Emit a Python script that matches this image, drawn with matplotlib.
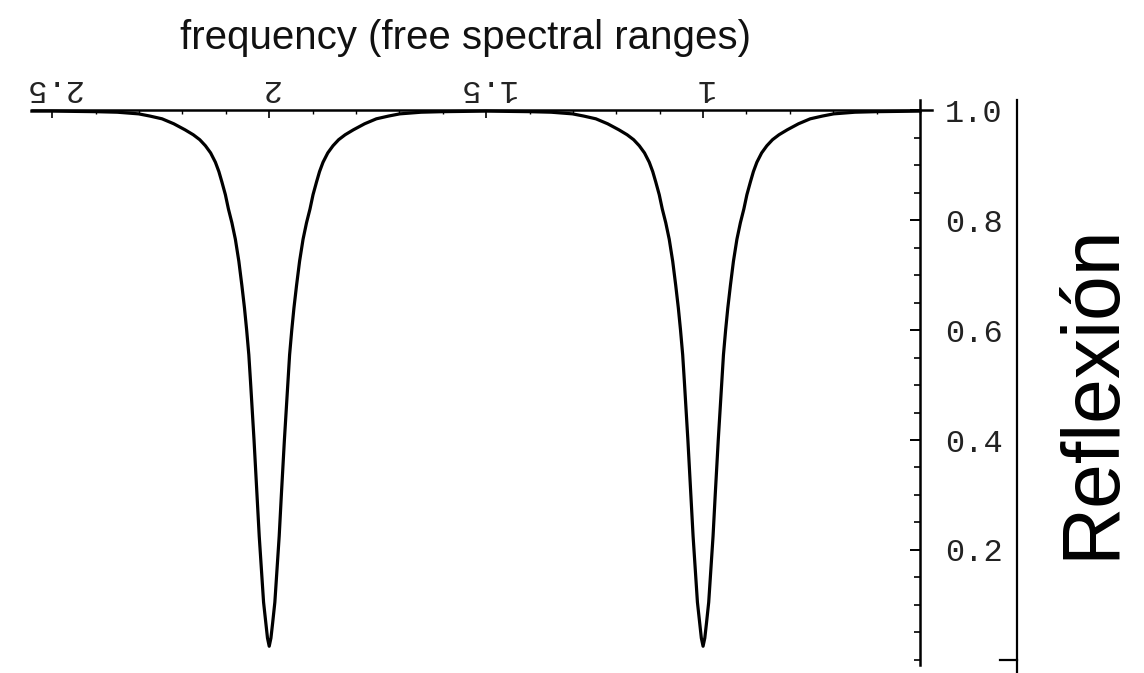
import matplotlib
matplotlib.use("Agg")
import matplotlib.pyplot as plt
from matplotlib.lines import Line2D
from matplotlib.ticker import MultipleLocator

# ---- data ----
freq_dip2_left = [2.547, 2.500, 2.400, 2.350, 2.301, 2.275, 2.247, 2.220, 2.194, 2.175,
                  2.160, 2.147, 2.135, 2.124, 2.116, 2.109, 2.101, 2.094, 2.086, 2.078,
                  2.070, 2.063, 2.057, 2.052, 2.047, 2.043, 2.035, 2.028, 2.023, 2.018,
                  2.013, 2.008, 2.004, 2.000]
refl_dip2_left = [0.998, 0.998, 0.997, 0.996, 0.993, 0.989, 0.984, 0.975, 0.964, 0.955,
                  0.946, 0.935, 0.922, 0.905, 0.888, 0.869, 0.846, 0.820, 0.795, 0.765,
                  0.725, 0.681, 0.640, 0.600, 0.555, 0.505, 0.400, 0.300, 0.225, 0.165,
                  0.105, 0.068, 0.040, 0.025]
freq_dip2_right = [1.996, 1.992, 1.987, 1.982, 1.977, 1.972, 1.965, 1.957, 1.953, 1.948,
                   1.943, 1.937, 1.930, 1.922, 1.914, 1.906, 1.899, 1.891, 1.884, 1.876,
                   1.865, 1.853, 1.840, 1.825, 1.806, 1.780, 1.753, 1.725, 1.699, 1.650,
                   1.600, 1.500]
refl_dip2_right = [0.040, 0.068, 0.105, 0.165, 0.225, 0.300, 0.400, 0.505, 0.555, 0.600,
                   0.640, 0.681, 0.725, 0.765, 0.795, 0.820, 0.846, 0.869, 0.888, 0.905,
                   0.922, 0.935, 0.946, 0.955, 0.964, 0.975, 0.984, 0.989, 0.993, 0.996,
                   0.997, 0.998]
freq_dip1_left = [1.400, 1.350, 1.301, 1.275, 1.247, 1.220, 1.194, 1.175, 1.160, 1.147,
                  1.135, 1.124, 1.116, 1.109, 1.101, 1.094, 1.086, 1.078, 1.070, 1.063,
                  1.057, 1.052, 1.047, 1.043, 1.035, 1.028, 1.023, 1.018, 1.013, 1.008,
                  1.004, 1.000]
refl_dip1_left = [0.997, 0.996, 0.993, 0.989, 0.984, 0.975, 0.964, 0.955, 0.946, 0.935,
                  0.922, 0.905, 0.888, 0.869, 0.846, 0.820, 0.795, 0.765, 0.725, 0.681,
                  0.640, 0.600, 0.555, 0.505, 0.400, 0.300, 0.225, 0.165, 0.105, 0.068,
                  0.040, 0.025]
freq_dip1_right = [0.996, 0.992, 0.987, 0.982, 0.977, 0.972, 0.965, 0.957, 0.953, 0.948,
                   0.943, 0.937, 0.930, 0.922, 0.914, 0.906, 0.899, 0.891, 0.884, 0.876,
                   0.865, 0.853, 0.840, 0.825, 0.806, 0.780, 0.753, 0.725, 0.699, 0.650,
                   0.600, 0.500]
refl_dip1_right = [0.040, 0.068, 0.105, 0.165, 0.225, 0.300, 0.400, 0.505, 0.555, 0.600,
                   0.640, 0.681, 0.725, 0.765, 0.795, 0.820, 0.846, 0.869, 0.888, 0.905,
                   0.922, 0.935, 0.946, 0.955, 0.964, 0.975, 0.984, 0.989, 0.993, 0.996,
                   0.997, 0.998]

freq = freq_dip2_left + freq_dip2_right + freq_dip1_left + freq_dip1_right
refl = refl_dip2_left + refl_dip2_right + refl_dip1_left + refl_dip1_right

x_ticks = [2.5, 2.0, 1.5, 1.0]
x_labels = ["2.5", "2", "1.5", "1"]
y_ticks = [0.2, 0.4, 0.6, 0.8, 1.0]
y_labels = ["0.2", "0.4", "0.6", "0.8", "1.0"]

title = "frequency (free spectral ranges)"
ylabel = "Reflexión"

# ---- figure ----
W, H = 1144, 673
fig = plt.figure(figsize=(W / 100, H / 100), dpi=100)
fig.patch.set_facecolor("white")

ax = fig.add_axes([20 / W, 1 - 670 / H, 920 / W, 575 / H])
ax.set_xlim(2.5744, 0.4539)
ax.set_ylim(-0.0182, 1.0273)
ax.patch.set_alpha(0)

ax.plot(freq, refl, color="black", lw=2.3, solid_joinstyle="round")

for s in ("left", "bottom"):
    ax.spines[s].set_visible(False)
ax.spines["top"].set_position(("data", 1.0))
ax.spines["top"].set_bounds(0.472, 2.547)
ax.spines["top"].set_linewidth(1.8)
ax.spines["right"].set_position(("data", 0.5))
ax.spines["right"].set_bounds(-0.01, 1.018)
ax.spines["right"].set_linewidth(1.8)

mono = "Liberation Mono"
ax.xaxis.tick_top()
ax.set_xticks(x_ticks)
ax.set_xticklabels(x_labels, rotation=180, fontsize=23, family=mono, color="#222222")
ax.xaxis.set_minor_locator(MultipleLocator(0.1))
ax.tick_params(axis="x", which="major", direction="in", length=6, width=1.2, pad=5)
ax.tick_params(axis="x", which="minor", direction="in", length=3, width=1.0)

ax.yaxis.tick_right()
ax.set_yticks(y_ticks)
ax.set_yticklabels(y_labels, fontsize=23, family=mono, color="#222222")
ax.yaxis.set_minor_locator(MultipleLocator(0.05))
ax.tick_params(axis="y", which="major", direction="in", length=7, width=1.4, pad=18)
ax.tick_params(axis="y", which="minor", direction="in", length=4, width=1.2)

fig.text(466 / W, 1 - 38 / H, title, ha="center", va="center",
         fontsize=29, family="Liberation Sans", color="#111111")
fig.text(1092 / W, 1 - 391 / H, ylabel, ha="center", va="center", rotation=90,
         fontsize=58, family="Liberation Sans", color="black")

# outer frame fragment on the right
fig.add_artist(Line2D([1017 / W, 1017 / W], [1 - 100 / H, 1 - 673 / H],
                      transform=fig.transFigure, color="black", lw=1.6))
fig.add_artist(Line2D([1000 / W, 1017 / W], [1 - 660 / H, 1 - 660 / H],
                      transform=fig.transFigure, color="black", lw=1.6))

fig.savefig("out.png", dpi=100)
